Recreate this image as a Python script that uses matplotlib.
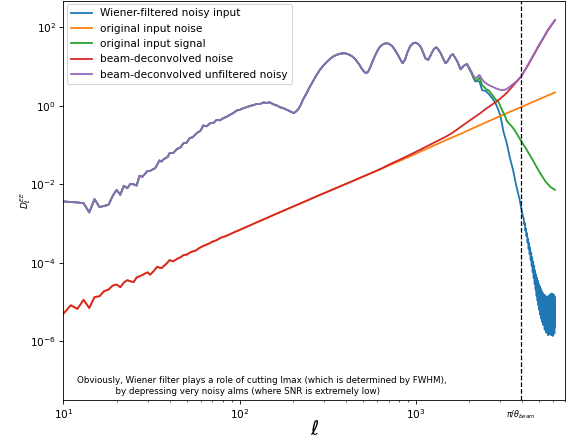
import numpy as np
import matplotlib
matplotlib.use('Agg')
import matplotlib.pyplot as plt
import matplotlib.transforms as mtransforms

# values, stored as log10(D_l)

# signal part shared by the three "data" curves (l <= 1950)
ell_sig = [10, 11, 12, 13, 14, 15, 16, 17, 18, 19, 20, 21, 22, 23, 24, 25, 26, 27, 28, 29,
           30, 31, 32, 33, 34, 35, 36, 37, 38, 39, 40, 42, 44, 46, 48, 50, 52, 54, 57, 60,
           62, 65, 68, 71, 74, 77, 81, 84, 88, 92, 96, 100, 105, 110, 115, 120, 125, 130, 136, 142,
           148, 155, 162, 169, 177, 185, 194, 203, 210, 216, 222, 229, 240, 250, 262, 273, 285, 298, 312, 325,
           340, 355, 372, 392, 410, 431, 445, 459, 475, 490, 505, 520, 535, 550, 575, 600, 620, 640, 662, 684,
           706, 730, 755, 780, 810, 839, 865, 895, 924, 960, 993, 1025, 1060, 1095, 1130, 1172, 1205, 1238, 1270, 1305,
           1340, 1380, 1425, 1470, 1500, 1535, 1575, 1620, 1665, 1715, 1790, 1830, 1865, 1910, 1950]
sig_log = [-2.435, -2.45, -2.46, -2.48, -2.715, -2.375, -2.58, -2.55, -2.52, -2.30, -2.14, -2.265, -2.035, -2.10, -1.985, -2.00, -2.03, -1.78, -1.81, -1.73,
           -1.654, -1.66, -1.62, -1.595, -1.50, -1.39, -1.42, -1.36, -1.33, -1.30, -1.205, -1.20, -1.10, -1.06, -0.95, -0.94, -0.82, -0.80, -0.695, -0.63,
           -0.50, -0.52, -0.44, -0.43, -0.356, -0.37, -0.31, -0.28, -0.23, -0.18, -0.12, -0.10, -0.06, -0.03, 0.0, 0.02, 0.05, 0.045, 0.085, 0.075,
           0.09, 0.04, 0.01, -0.035, -0.06, -0.10, -0.14, -0.186, -0.13, -0.07, 0.03, 0.17, 0.33, 0.49, 0.65, 0.79, 0.92, 1.025, 1.12, 1.196,
           1.26, 1.30, 1.33, 1.34, 1.32, 1.27, 1.22, 1.15, 1.06, 0.96, 0.88, 0.83, 0.87, 0.985, 1.20, 1.38, 1.49, 1.55, 1.585, 1.595,
           1.575, 1.527, 1.44, 1.34, 1.20, 1.086, 1.17, 1.37, 1.51, 1.59, 1.61, 1.58, 1.51, 1.37, 1.21, 1.17, 1.27, 1.38, 1.46, 1.49,
           1.43, 1.34, 1.20, 1.086, 1.12, 1.19, 1.28, 1.315, 1.23, 1.13, 0.93, 0.98, 1.02, 1.05, 1.06]

# beam-deconvolved unfiltered noisy (high l)
ell_purple_tail = [2000, 2060, 2110, 2170, 2230, 2290, 2350, 2420, 2500, 2590, 2700, 2820, 2940, 3060, 3160,
                   3260, 3410, 3560, 3710, 3830, 3950, 4080, 4210, 4340, 4590, 4920, 5250, 5580, 5850, 6143]
purple_tail_log = [0.98, 0.875, 0.78, 0.70, 0.74, 0.79, 0.70, 0.62, 0.57, 0.53, 0.49, 0.45, 0.42, 0.40, 0.405,
                   0.425, 0.49, 0.56, 0.62, 0.69, 0.75, 0.86, 0.96, 1.07, 1.26, 1.51, 1.72, 1.93, 2.06, 2.19]

# original input signal (high l)
ell_green_tail = [2000, 2060, 2120, 2170, 2230, 2290, 2370, 2470, 2530, 2590, 2680, 2760, 2820, 2950, 3070,
                  3170, 3270, 3380, 3490, 3600, 3720, 3830, 3950, 4220, 4590, 4990, 5430, 5800, 6143]
green_tail_log = [0.96, 0.85, 0.72, 0.64, 0.66, 0.72, 0.53, 0.45, 0.41, 0.39, 0.30, 0.22, 0.17, 0.08, -0.10,
                  -0.22, -0.38, -0.46, -0.52, -0.60, -0.70, -0.80, -0.90, -1.10, -1.38, -1.67, -1.93, -2.07, -2.14]

# Wiener-filtered noisy input (high l)
ell_blue_tail = [2000, 2060, 2120, 2170, 2230, 2290, 2370, 2480, 2590, 2700, 2800, 2880, 3000, 3070, 3130,
                 3270, 3410, 3550, 3710, 3870, 4040,
                 4080, 4110, 4140, 4170, 4200, 4230, 4260, 4290, 4320, 4350, 4380, 4410, 4440, 4470, 4500,
                 4530, 4560, 4590, 4620, 4650, 4680, 4710, 4740, 4770, 4800, 4830, 4860, 4890, 4920, 4950,
                 4980, 5010, 5040, 5070, 5100, 5130, 5160, 5190, 5220, 5250, 5280, 5310, 5340, 5370, 5400,
                 5430, 5460, 5490, 5520, 5550, 5580, 5610, 5640, 5670, 5700, 5730, 5760, 5790, 5820, 5850,
                 5880, 5910, 5940, 5970, 6000, 6030, 6060, 6090, 6120, 6143]
blue_tail_log = [0.95, 0.84, 0.70, 0.62, 0.63, 0.62, 0.40, 0.38, 0.30, 0.20, 0.10, -0.02, -0.23, -0.45, -0.65,
                 -0.95, -1.33, -1.63, -2.05, -2.39, -2.82,
                 -2.86, -3.02, -2.98, -3.18, -3.12, -3.32, -3.24, -3.48, -3.38, -3.64, -3.50, -3.78, -3.62, -3.93, -3.74,
                 -4.08, -3.86, -4.24, -3.97, -4.38, -4.08, -4.54, -4.20, -4.68, -4.30, -4.84, -4.38, -4.96, -4.46, -5.08,
                 -4.54, -5.20, -4.60, -5.32, -4.66, -5.42, -4.72, -5.50, -4.76, -5.58, -4.80, -5.56, -4.84, -5.70, -4.82,
                 -5.66, -4.88, -5.78, -4.86, -5.74, -4.92, -5.84, -4.84, -5.76, -4.94, -5.82, -4.80, -5.70, -4.90, -5.84,
                 -4.78, -5.76, -4.88, -5.86, -4.80, -5.72, -4.82, -5.80, -4.86, -5.62]

# noise, identical for both noise curves up to l~600
ell_noise = [10, 11, 12, 13, 14, 15, 16, 17, 18, 19, 20, 21, 22, 23, 24, 25, 26, 27, 28, 29,
             30, 31, 32, 33, 34, 35, 36, 38, 40, 42, 44, 46, 48, 50, 53, 56, 59, 62, 66, 70,
             74, 78, 83, 88, 94, 100, 107, 115, 123, 132, 142, 152, 163, 175, 188, 202, 217, 233, 250, 268,
             288, 310, 333, 358, 385, 414, 445, 478, 514, 552, 593]
noise_log = [-5.29, -5.08, -5.17, -4.94, -5.15, -4.87, -4.85, -4.72, -4.68, -4.58, -4.55, -4.62, -4.50, -4.44, -4.47, -4.49, -4.37, -4.34, -4.31, -4.27,
             -4.24, -4.30, -4.24, -4.17, -4.10, -4.12, -4.13, -4.04, -3.93, -3.96, -3.90, -3.86, -3.80, -3.79, -3.72, -3.69, -3.62, -3.57, -3.52, -3.46,
             -3.42, -3.36, -3.32, -3.27, -3.21, -3.16, -3.10, -3.04, -2.98, -2.92, -2.86, -2.80, -2.74, -2.68, -2.62, -2.56, -2.50, -2.44, -2.38, -2.32,
             -2.26, -2.20, -2.14, -2.08, -2.02, -1.96, -1.90, -1.84, -1.78, -1.72, -1.66]

ell_orange_tail = [640, 700, 800, 900, 1053, 1250, 1500, 1800, 2100, 2500, 3000, 3500, 4000, 4500, 5000, 5500, 6143]
orange_tail_log = [-1.60, -1.52, -1.41, -1.31, -1.17, -1.02, -0.86, -0.71, -0.57, -0.42, -0.26, -0.13, -0.02, 0.08, 0.17, 0.25, 0.34]

ell_red_tail = [640, 700, 800, 900, 1053, 1250, 1500, 1630, 1800, 2020, 2310, 2500, 2760, 3000, 3270,
                3630, 3950, 4340, 4920, 5580, 6143]
red_tail_log = [-1.59, -1.50, -1.38, -1.27, -1.12, -0.95, -0.77, -0.67, -0.53, -0.37, -0.19, -0.07, 0.06, 0.18, 0.33,
                0.56, 0.75, 1.05, 1.49, 1.91, 2.18]

l_beam = 3950  # pi / theta_beam

labels = ['Wiener-filtered noisy input', 'original input noise', 'original input signal',
          'beam-deconvolved noise', 'beam-deconvolved unfiltered noisy']


def join(l1, v1, l2, v2):
    return np.array(l1 + l2), 10.0 ** np.array(v1 + v2)


DPI = 76
fig = plt.figure(figsize=(571 / DPI, 440 / DPI), dpi=DPI)
ax = fig.add_axes([0.1112, 0.092, 0.8783, 0.9057])

lw = 1.7
x, y = join(ell_sig, sig_log, ell_blue_tail, blue_tail_log)
ax.plot(x, y, lw=lw, label=labels[0])
x, y = join(ell_noise, noise_log, ell_orange_tail, orange_tail_log)
ax.plot(x, y, lw=lw, label=labels[1])
x, y = join(ell_sig, sig_log, ell_green_tail, green_tail_log)
ax.plot(x, y, lw=lw, label=labels[2])
x, y = join(ell_noise, noise_log, ell_red_tail, red_tail_log)
ax.plot(x, y, lw=lw, label=labels[3])
x, y = join(ell_sig, sig_log, ell_purple_tail, purple_tail_log)
ax.plot(x, y, lw=lw, label=labels[4])

ax.axvline(l_beam, color='k', ls='--', lw=1.2)

ax.set_xscale('log')
ax.set_yscale('log')
ax.set_xlim(10, 7000)
ax.set_ylim(10 ** -7.48, 10 ** 2.67)

trans = mtransforms.blended_transform_factory(ax.transData, ax.transAxes)
ax.text(l_beam, -0.022, r'$\pi/\theta_{beam}$', transform=trans, ha='center', va='top', fontsize=7.6)

ax.set_xlabel(r'$\ell$', fontsize=19, labelpad=-1)
ax.set_ylabel(r'$D_\ell^{EE}$', fontsize=8.5, labelpad=-3)

ax.text(0.0275, 0.01,
        'Obviously, Wiener filter plays a role of cutting lmax (which is determined by FWHM),\n'
        '              by depressing very noisy alms (where SNR is extremely low)',
        transform=ax.transAxes, ha='left', va='bottom', fontsize=8.35)

ax.legend(loc='upper left', borderaxespad=0.3)

fig.savefig('out.png', dpi=DPI)
